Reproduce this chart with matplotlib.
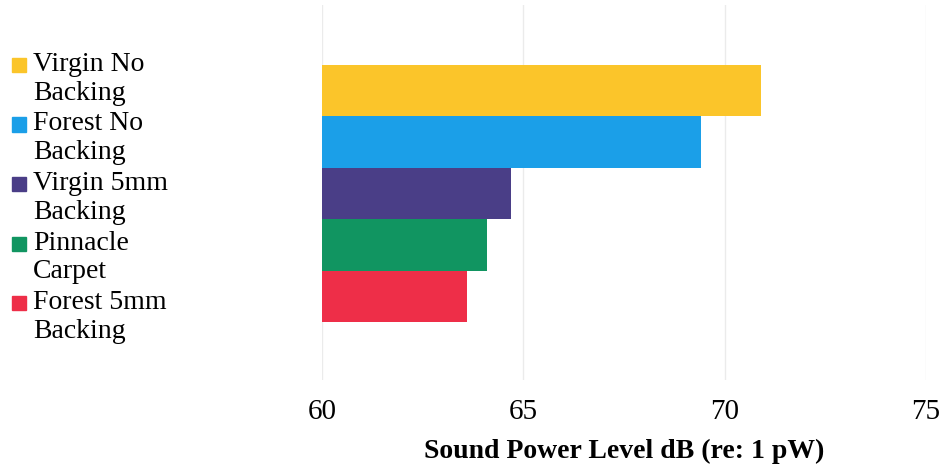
import matplotlib
matplotlib.use('Agg')
import matplotlib.pyplot as plt
from matplotlib.patches import Rectangle

# data
categories = ['Virgin No Backing', 'Forest No Backing', 'Virgin 5mm Backing',
              'Pinnacle Carpet', 'Forest 5mm Backing']
legend_labels = ['Virgin No\nBacking', 'Forest No\nBacking', 'Virgin 5mm\nBacking',
                 'Pinnacle\nCarpet', 'Forest 5mm\nBacking']
values = [70.9, 69.4, 64.7, 64.1, 63.6]
colors = ['#FBC52A', '#1B9FE8', '#4A3E87', '#119561', '#EE2E48']
xticks = [60, 65, 70, 75]
base = 60

plt.rcParams['font.family'] = ['Liberation Serif', 'DejaVu Serif']

W, H = 942, 472
fig = plt.figure(figsize=(W / 100, H / 100), dpi=100)
ax = fig.add_axes([322 / W, (H - 380) / H, (926 - 322) / W, 375 / H])

ypos = list(range(len(categories)))
ax.barh(ypos, [v - base for v in values], left=base, height=1.0, color=colors, zorder=2)

ax.set_xlim(60, 75)
ax.set_ylim(5.63, -1.67)
ax.set_xticks(xticks)
ax.set_xticklabels([str(t) for t in xticks], fontsize=21)
ax.set_yticks([])
ax.tick_params(axis='x', length=0, pad=14)
ax.grid(axis='x', color='#EBEBEB', linewidth=1.0, zorder=0)
for s in ax.spines.values():
    s.set_visible(False)
ax.set_xlabel('Sound Power Level dB (re: 1 pW)', fontsize=20, fontweight='bold', labelpad=10)

# legend on the left, marker lined up with the first text line
for i, (lab, c) in enumerate(zip(legend_labels, colors)):
    top = 58 + i * 59.5
    fig.patches.append(Rectangle((12 / W, 1 - (top + 14) / H), 14 / W, 14 / H,
                                 transform=fig.transFigure, color=c))
    fig.text(33 / W, 1 - (top - 6) / H, lab, fontsize=20, va='top', ha='left',
             linespacing=1.2)

fig.savefig('out.png', dpi=100)
